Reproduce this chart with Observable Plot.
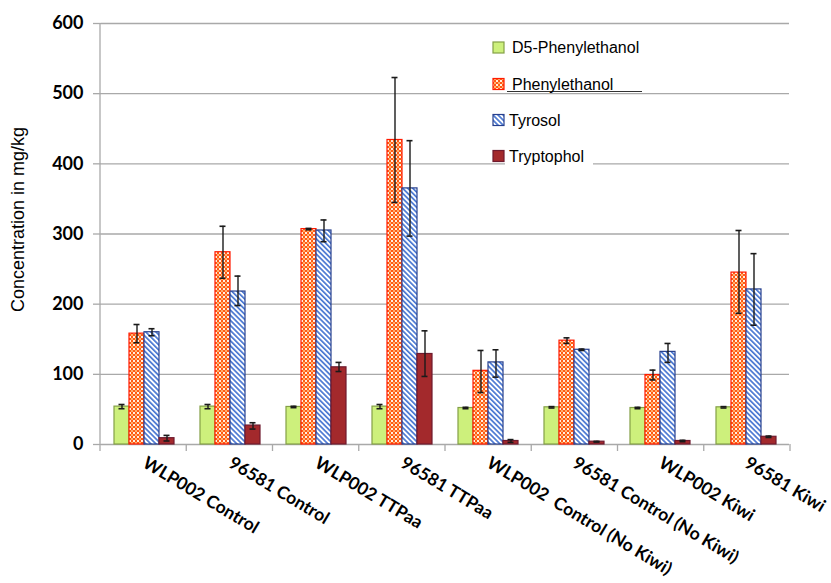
<!DOCTYPE html>
<html><head><meta charset="utf-8">
<script src="https://cdn.jsdelivr.net/npm/d3@7"></script>
<script src="https://cdn.jsdelivr.net/npm/@observablehq/plot@0.6"></script>
<style>
body{margin:0;background:#fff;}
#chart svg{overflow:visible;}
#chart text{white-space:pre;}
</style></head><body><div id="chart"></div>
<script>
const categories = ["WLP002 Control","96581 Control","WLP002 TTPaa","96581 TTPaa","WLP002  Control (No Kiwi)","96581 Control (No Kiwi)","WLP002 Kiwi","96581 Kiwi"];
const seriesNames = ["D5-Phenylethanol","Phenylethanol","Tyrosol","Tryptophol"];
const yTicks = [0,100,200,300,400,500,600];

const d5Values   = [54, 54, 53.5, 54, 52, 53, 52, 53];
const d5Low      = [51, 51, 52.5, 51, 51, 52, 51, 52];
const d5High     = [57, 57, 54.5, 57, 53, 54, 53, 54];

const phenValues = [158, 274, 307, 434, 105, 148, 99, 245];
const phenLow    = [145, 237, 306, 345, 74, 144, 92, 187];
const phenHigh   = [171, 311, 308, 523, 134, 152, 106, 305];

const tyrValues  = [160, 218, 305, 365, 117, 135, 132, 221];
const tyrLow     = [155, 198, 289, 297, 96, 134, 117, 170];
const tyrHigh    = [165, 240, 320, 433, 135, 136, 144, 272];

const trypValues = [9, 27, 110, 129, 5, 4, 5, 11];
const trypLow    = [5, 22, 104, 97, 3, 3.5, 4, 10];
const trypHigh   = [13, 31, 117, 162, 7, 4.5, 6, 12];

const seriesFills   = ["#cdf07c", "url(#checkRed)", "url(#hatchBlue)", "#a3292c"];
const seriesStrokes = ["#84a046", "#ff1a00", "#27408e", "#6e1a2e"];

const valueSets = [d5Values, phenValues, tyrValues, trypValues];
const lowSets = [d5Low, phenLow, tyrLow, trypLow];
const highSets = [d5High, phenHigh, tyrHigh, trypHigh];

const rows = [];
categories.forEach((c, i) => {
  seriesNames.forEach((s, j) => {
    rows.push({cat: c, series: s, value: valueSets[j][i], lo: lowSets[j][i], hi: highSets[j][i],
               fill: seriesFills[j], stroke: seriesStrokes[j]});
  });
});

const tickFont = "Lato, 'DejaVu Sans', sans-serif";

const plot = Plot.plot({
  width: 831, height: 583,
  marginLeft: 100, marginRight: 41, marginTop: 23, marginBottom: 139,
  style: {background: "white", overflow: "visible"},
  fx: {domain: categories, padding: 0, label: null, axis: null},
  x: {domain: seriesNames, paddingInner: 0.02, paddingOuter: 0.8, axis: null},
  y: {domain: [0, 600], axis: null},
  color: {type: "identity"},
  marks: [
    Plot.gridY(yTicks, {stroke: "#a9a9a9", strokeOpacity: 1, strokeWidth: 1.3}),
    Plot.barY(rows, {fx: "cat", x: "series", y: "value", fill: "fill", stroke: "stroke", strokeWidth: 1.2}),
    Plot.ruleX(rows, {fx: "cat", x: "series", y1: "lo", y2: "hi", stroke: "#1a1a1a", strokeWidth: 1.4}),
    Plot.tickY(rows, {fx: "cat", x: "series", y: "lo", insetLeft: 4.5, insetRight: 4.5, stroke: "#1a1a1a", strokeWidth: 1.6}),
    Plot.tickY(rows, {fx: "cat", x: "series", y: "hi", insetLeft: 4.5, insetRight: 4.5, stroke: "#1a1a1a", strokeWidth: 1.6}),
    Plot.axisY(yTicks, {tickSize: 8, tickPadding: 10, stroke: "#a9a9a9", strokeWidth: 1.3, fill: "black",
                        fontSize: 18, fontWeight: "bold", fontFamily: tickFont, label: null}),
    Plot.axisFx({anchor: "bottom", tickRotate: 31, tickSize: 0, tickPadding: 17, fill: "black",
                 fontSize: 17.5, fontWeight: "bold", fontFamily: tickFont, label: null})
  ]
});

document.getElementById("chart").appendChild(plot);

const svg = d3.select(plot);
// patterns
const defs = svg.insert("defs", ":first-child");
const chk = defs.append("pattern").attr("id", "checkRed").attr("patternUnits", "userSpaceOnUse")
  .attr("width", 4).attr("height", 4);
chk.append("rect").attr("width", 4).attr("height", 4).attr("fill", "#ff5a14");
chk.append("rect").attr("x", 0).attr("y", 0).attr("width", 2).attr("height", 2).attr("fill", "#fff0e0");
chk.append("rect").attr("x", 2).attr("y", 2).attr("width", 2).attr("height", 2).attr("fill", "#ffb070");
const hatch = defs.append("pattern").attr("id", "hatchBlue").attr("patternUnits", "userSpaceOnUse")
  .attr("width", 3.6).attr("height", 3.6).attr("patternTransform", "rotate(-45)");
hatch.append("rect").attr("width", 3.6).attr("height", 3.6).attr("fill", "white");
hatch.append("rect").attr("x", 0).attr("y", 0).attr("width", 1.7).attr("height", 3.6).attr("fill", "#4a78d2");

// axis line and category boundary ticks derived from the scales
const fx = plot.scale("fx");
const ys = plot.scale("y");
const [r0, r1] = fx.range;
const step = (r1 - r0) / fx.domain.length;
const y0 = ys.apply(0), yTop = ys.apply(600);
const axisG = svg.append("g").attr("stroke", "#a9a9a9").attr("stroke-width", 1.3);
axisG.append("line").attr("x1", r0).attr("x2", r0).attr("y1", yTop).attr("y2", y0);
for (let i = 0; i <= fx.domain.length; i++) {
  const x = r0 + i * step;
  axisG.append("line").attr("x1", x).attr("x2", x).attr("y1", y0).attr("y2", y0 + 7);
}

// y label
svg.append("text").attr("transform", `translate(19,${(yTop + y0) / 2 - 14}) rotate(-90)`)
  .attr("text-anchor", "middle").attr("dominant-baseline", "middle")
  .attr("font-family", "'Liberation Sans', Arial, sans-serif").attr("font-size", 18)
  .attr("fill", "black").text("Concentration in mg/kg");

// legend
const legendRows = [
  {y: 47.5, tx: 512},
  {y: 84, tx: 512},
  {y: 120, tx: 509},
  {y: 156, tx: 509}
];
const lg = svg.append("g").attr("font-family", "'Liberation Sans', Arial, sans-serif").attr("font-size", 16)
  .attr("text-anchor", "start");
lg.append("rect").attr("x", 505).attr("y", 148).attr("width", 88).attr("height", 17).attr("fill", "white");
lg.append("line").attr("x1", 507).attr("x2", 642).attr("y1", 91.5).attr("y2", 91.5).attr("stroke", "#333").attr("stroke-width", 1.2);
seriesNames.forEach((s, j) => {
  const r = legendRows[j];
  lg.append("rect").attr("x", 493).attr("y", r.y - 5.5).attr("width", 11).attr("height", 11)
    .attr("fill", seriesFills[j]).attr("stroke", seriesStrokes[j]).attr("stroke-width", 1.2);
  lg.append("text").attr("x", r.tx).attr("y", r.y).attr("dy", "0.35em").attr("fill", "black").text(s);
});
</script></body></html>
